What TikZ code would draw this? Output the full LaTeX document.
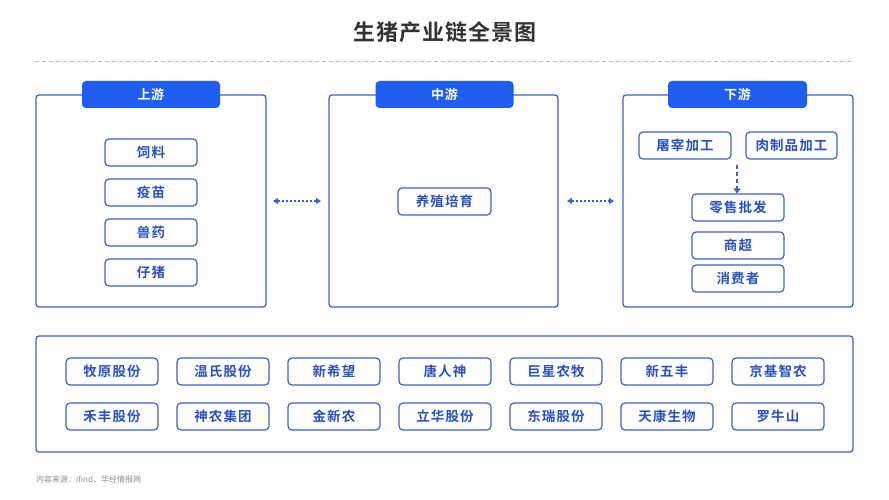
\documentclass[tikz,border=0pt]{standalone}
\usepackage{fontspec}
\setmainfont{Noto Sans CJK SC}
\newfontfamily\cjkb{Noto Sans CJK SC Bold}[LetterSpace=8]
\newfontfamily\cjkt{Noto Sans CJK SC Bold}[LetterSpace=4]
\newfontfamily\cjkr{Noto Sans CJK SC}
\usetikzlibrary{arrows.meta}
\definecolor{tabblue}{HTML}{1F5EF0}
\definecolor{lineblue}{HTML}{3A62CC}
\definecolor{txtblue}{HTML}{2A50C2}
\definecolor{titlegray}{HTML}{333333}
\begin{document}
\begin{tikzpicture}[x=1pt,y=-1pt,
  panel/.style={draw=lineblue,line width=1.3pt,rounded corners=3pt},
  tab/.style={fill=tabblue,rounded corners=4pt,text=white,font=\cjkt\fontsize{13}{15}\selectfont,inner sep=0pt},
  item/.style={draw=lineblue,line width=1.2pt,rounded corners=4pt,minimum width=92pt,minimum height=27pt,inner sep=0pt,text=txtblue,font=\cjkb\fontsize{13.5}{15}\selectfont,fill=white},
  link/.style={lineblue,line width=1.2pt,dash pattern=on 2.5pt off 1.5pt,{Triangle[length=5pt,width=6pt]}-{Triangle[length=5pt,width=6pt]}},
  down/.style={lineblue,line width=1.5pt,dash pattern=on 4pt off 3pt,-{Triangle[length=5pt,width=7pt]}}
]
\useasboundingbox (0,0) rectangle (889,500);
\fill[white] (0,0) rectangle (889,500);
\node[text=titlegray,font=\cjkt\fontsize{22}{26}\selectfont] (title) at (445,32) {生猪产业链全景图};
\draw[draw=black!28,line width=0.8pt,dash pattern=on 4pt off 3pt] (35,61) -- (854,61);
% panels
\draw[panel] (36,95) rectangle (266,307);
\draw[panel] (329,95) rectangle (558,307);
\draw[panel] (623,95) rectangle (853,307);
\node[tab,minimum width=138pt,minimum height=27pt] (t1) at (151,94.5) {上游};
\node[tab,minimum width=138pt,minimum height=27pt] (t2) at (444.5,94.5) {中游};
\node[tab,minimum width=139pt,minimum height=27pt] (t3) at (737.5,94.5) {下游};
% upstream
\node[item] (u1) at (151,152.5) {饲料};
\node[item] (u2) at (151,192.5) {疫苗};
\node[item] (u3) at (151,232.5) {兽药};
\node[item] (u4) at (151,272.5) {仔猪};
% midstream
\node[item,minimum width=93pt] (m1) at (444.5,201.5) {养殖培育};
% downstream
\node[item] (d1) at (685,145.5) {屠宰加工};
\node[item,minimum width=91pt] (d2) at (791.5,145.5) {肉制品加工};
\node[item] (d3) at (738,207.5) {零售批发};
\node[item] (d4) at (738,245.5) {商超};
\node[item] (d5) at (738,278.5) {消费者};
\coordinate (ds) at (737,165);
\draw[down] (ds) -- (d3.north -| ds);
% arrows between panels
\coordinate (a1) at (273,201);
\coordinate (a2) at (321,201);
\coordinate (a3) at (567,201);
\coordinate (a4) at (614,201);
\draw[link] (a1) -- (a2);
\draw[link] (a3) -- (a4);
% companies panel
\draw[panel] (36,336) rectangle (853,452);
\foreach \t [count=\i from 0] in {牧原股份,温氏股份,新希望,唐人神,巨星农牧,新五丰,京基智农}
  \node[item] (c1\i) at (112+111*\i,371.5) {\t};
\foreach \t [count=\i from 0] in {禾丰股份,神农集团,金新农,立华股份,东瑞股份,天康生物,罗牛山}
  \node[item] (c2\i) at (112+111*\i,416.5) {\t};
% footer
\node[anchor=west,text=black!45,font=\cjkr\fontsize{8}{10}\selectfont,inner sep=0pt] (src) at (36,479) {内容来源：ifind、华经情报网};
\end{tikzpicture}
\end{document}
